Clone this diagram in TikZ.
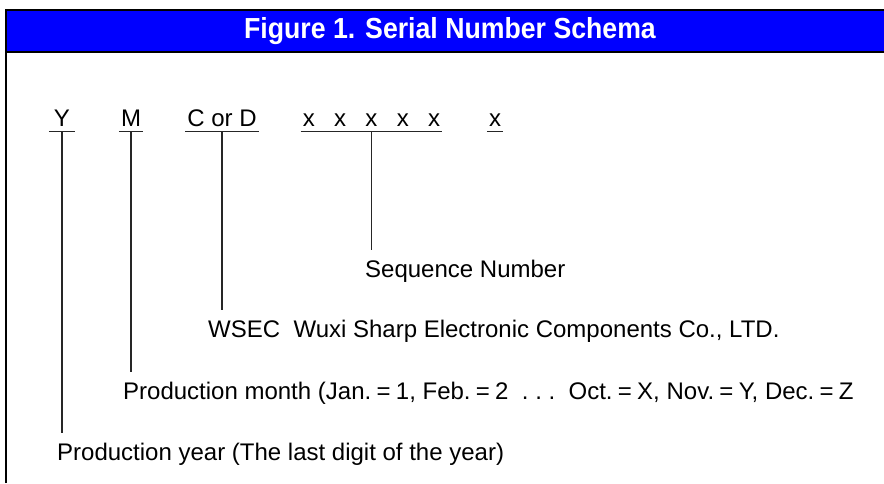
\documentclass[tikz,border=0pt]{standalone}
\usepackage{fontspec}
\setmainfont{Liberation Sans}

\begin{document}
\begin{tikzpicture}[
			x=1pt, y=-1pt,
			every node/.style={
					font=\fontsize{24}{28}\selectfont,
					inner sep=0pt
				},
			serial/.style={
					anchor=base,
					inner xsep=2pt,
					text depth=5.5pt % underline sits below the baseline
				},
			legend/.style={
					anchor=base west,
					text height=17pt, % cap height
					inner ysep=10pt   % gap left above the text
				},
			lead/.style={line width=1.2pt, black!85}
		]
		\useasboundingbox (0,0) rectangle (884,483);

		% heading band
		\fill[blue] (6,10) rectangle (884,52);
		\draw[line width=2pt] (6,483) -- (6,10) -- (884,10);
		\draw[line width=2pt] (6,52) -- (884,52);
		\node[font=\bfseries\fontsize{29}{32}\selectfont, text=white] (title) at (450,31) {\scalebox{0.92}[1]{Figure 1. Serial Number Schema}};

		% serial number fields
		\node[serial, minimum width=26pt] (nY) at (62,126) {Y};
		\node[serial] (nM) at (131,126) {M};
		\node[serial] (nCD) at (222,126) {C or D};
		\node[serial] (nseq) at (371.5,126) {x\hspace{19.3pt}x\hspace{19.3pt}x\hspace{19.3pt}x\hspace{19.3pt}x};
		\node[serial] (nchk) at (495,126) {x};

		\foreach \n in {nY, nM, nCD, nseq, nchk}
		\draw[lead] (\n.south west) -- (\n.south east);

		% legends
		\node[legend] (lseq) at (365,277) {Sequence Number};
		\node[legend] (lwsec) at (208,337) {WSEC\ \ Wuxi Sharp Electronic Components Co., LTD.};
		\node[legend] (lmonth) at (123,399) {Production month (Jan.\hspace{5.3pt}=\hspace{5.3pt}1, Feb.\hspace{5.3pt}=\hspace{5.3pt}2\ \ .\ .\ .\ \ Oct.\hspace{5.3pt}=\hspace{5.3pt}X, Nov.\hspace{5.3pt}=\hspace{5.3pt}Y, Dec.\hspace{5.3pt}=\hspace{5.3pt}Z};
		\node[legend] (lyear) at (57,460) {Production year (The last digit of the year)};

		\draw[lead] (nseq.south) -- (nseq.south |- lseq.north);
		\draw[lead] (nCD.south) -- (nCD.south |- lwsec.north);
		\draw[lead] (nM.south) -- (nM.south |- lmonth.north);
		\draw[lead] (nY.south) -- (nY.south |- lyear.north);

	\end{tikzpicture}
\end{document}
